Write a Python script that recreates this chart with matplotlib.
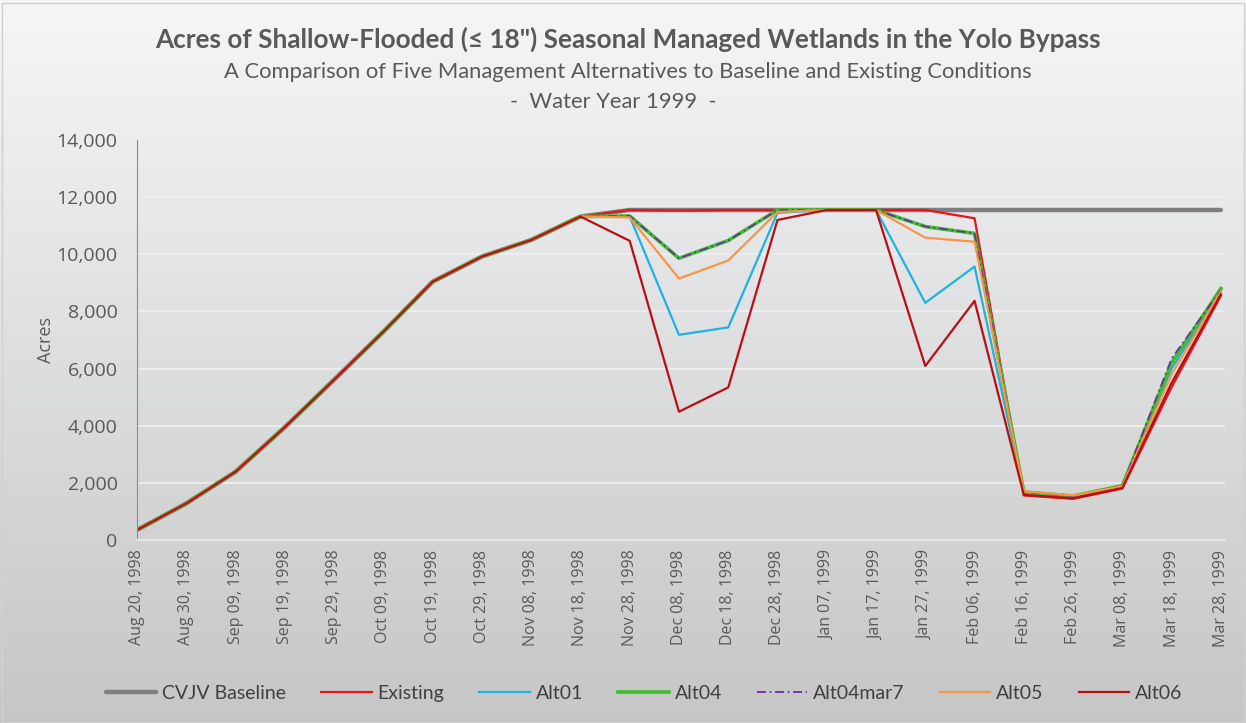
import numpy as np
import matplotlib
matplotlib.use("Agg")
import matplotlib.pyplot as plt
from matplotlib.patches import Rectangle

dates = ["Aug 20, 1998", "Aug 30, 1998", "Sep 09, 1998", "Sep 19, 1998", "Sep 29, 1998",
         "Oct 09, 1998", "Oct 19, 1998", "Oct 29, 1998", "Nov 08, 1998", "Nov 18, 1998",
         "Nov 28, 1998", "Dec 08, 1998", "Dec 18, 1998", "Dec 28, 1998", "Jan 07, 1999",
         "Jan 17, 1999", "Jan 27, 1999", "Feb 06, 1999", "Feb 16, 1999", "Feb 26, 1999",
         "Mar 08, 1999", "Mar 18, 1999", "Mar 28, 1999"]

# shared fill-up ramp, Aug 20 .. Nov 18
ramp = [350, 1280, 2390, 3950, 5610, 7290, 9040, 9920, 10500, 11320]

cvjv_baseline = ramp + [11550] * 13
existing = ramp + [11550, 11530, 11550, 11550, 11550, 11550, 11550, 11260, 1560, 1440, 1800, 5350, 8550]
alt01 = ramp + [11320, 7180, 7440, 11450, 11550, 11550, 8300, 9570, 1650, 1520, 1860, 6000, 8700]
alt04 = ramp + [11340, 9860, 10480, 11550, 11550, 11550, 10970, 10730, 1680, 1540, 1900, 6200, 8800]
alt04mar7 = ramp + [11340, 9860, 10480, 11550, 11550, 11550, 10970, 10730, 1680, 1540, 1900, 6350, 8750]
alt05 = ramp + [11290, 9150, 9780, 11480, 11550, 11550, 10580, 10440, 1700, 1560, 1880, 5800, 8700]
alt06 = ramp + [10470, 4490, 5340, 11200, 11550, 11550, 6090, 8370, 1580, 1460, 1820, 5500, 8600]

x = np.arange(len(dates))

fig = plt.figure(figsize=(12.46, 7.23), dpi=100)

# background gradient over the whole chart
bg = fig.add_axes([0, 0, 1, 1], zorder=-10)
grad = np.linspace(0, 1, 256).reshape(-1, 1)
top = np.array([245, 246, 248]) / 255
bot = np.array([198, 198, 198]) / 255
img = top + (bot - top) * grad[:, :, None]
bg.imshow(img, aspect="auto", extent=[0, 1, 0, 1])
bg.axis("off")
fig.patches.append(Rectangle((0.002, 0.002), 0.996, 0.994, transform=fig.transFigure,
                             fill=False, edgecolor="#d0d0d0", lw=1))

ax = fig.add_axes([0.110, 0.2531, 0.873, 0.5533])
ax.set_facecolor("none")

ax.plot(x, cvjv_baseline, color="#7f7f7f", lw=3.2, label="CVJV Baseline", solid_capstyle="round")
ax.plot(x, existing, color="#e8141b", lw=1.6, label="Existing")
ax.plot(x, alt01, color="#1fb1e6", lw=1.6, label="Alt01")
ax.plot(x, alt04, color="#3cbf2a", lw=2.6, label="Alt04")
ax.plot(x, alt04mar7, color="#7030a0", lw=1.3, ls=(0, (5, 2, 1, 2)), label="Alt04mar7")
ax.plot(x, alt05, color="#f79646", lw=1.6, label="Alt05")
ax.plot(x, alt06, color="#b80f16", lw=1.6, label="Alt06")

ax.set_xlim(0, 22.08)
ax.set_ylim(0, 14000)
ax.set_yticks(np.arange(0, 14001, 2000))
ax.set_yticklabels([f"{v:,}" for v in range(0, 14001, 2000)],
                   fontsize=14, color="#595959", family="Open Sans")
ax.set_xticks(x)
ax.set_xticklabels(dates, rotation=90, fontsize=11.5, color="#595959", family="Open Sans")
ax.tick_params(axis="y", length=0, pad=14)
ax.tick_params(axis="x", length=0, pad=7)
ax.grid(axis="y", color="#f0f0f0", lw=1.2)
ax.set_axisbelow(True)
for s in ["top", "right"]:
    ax.spines[s].set_visible(False)
ax.spines["left"].set_color("#8c8c8c")
ax.spines["bottom"].set_color("#e6e6e6")
ax.spines["bottom"].set_linewidth(1.5)

ax.set_ylabel("Acres", fontsize=13, color="#595959", family="Open Sans")
ax.yaxis.set_label_coords(-0.075, 0.5)

fig.text(0.504, 0.945, "Acres of Shallow-Flooded (\u2264 18\") Seasonal Managed Wetlands in the Yolo Bypass",
         ha="center", va="center", fontsize=18.8, fontweight="bold", color="#595959", family="Lato")
fig.text(0.504, 0.901, "A Comparison of Five Management Alternatives to Baseline and Existing Conditions",
         ha="center", va="center", fontsize=15.8, color="#595959", family="Lato")
fig.text(0.492, 0.859, "-  Water Year 1999  -",
         ha="center", va="center", fontsize=15.8, color="#595959", family="Lato")

leg = fig.legend(loc="center", bbox_to_anchor=(0.517, 0.041), ncol=7, frameon=False,
                 handlelength=2.6, columnspacing=1.8, handletextpad=0.3,
                 prop={"family": "Lato", "size": 14})
for t in leg.get_texts():
    t.set_color("#404040")

fig.savefig("out.png", dpi=100)
